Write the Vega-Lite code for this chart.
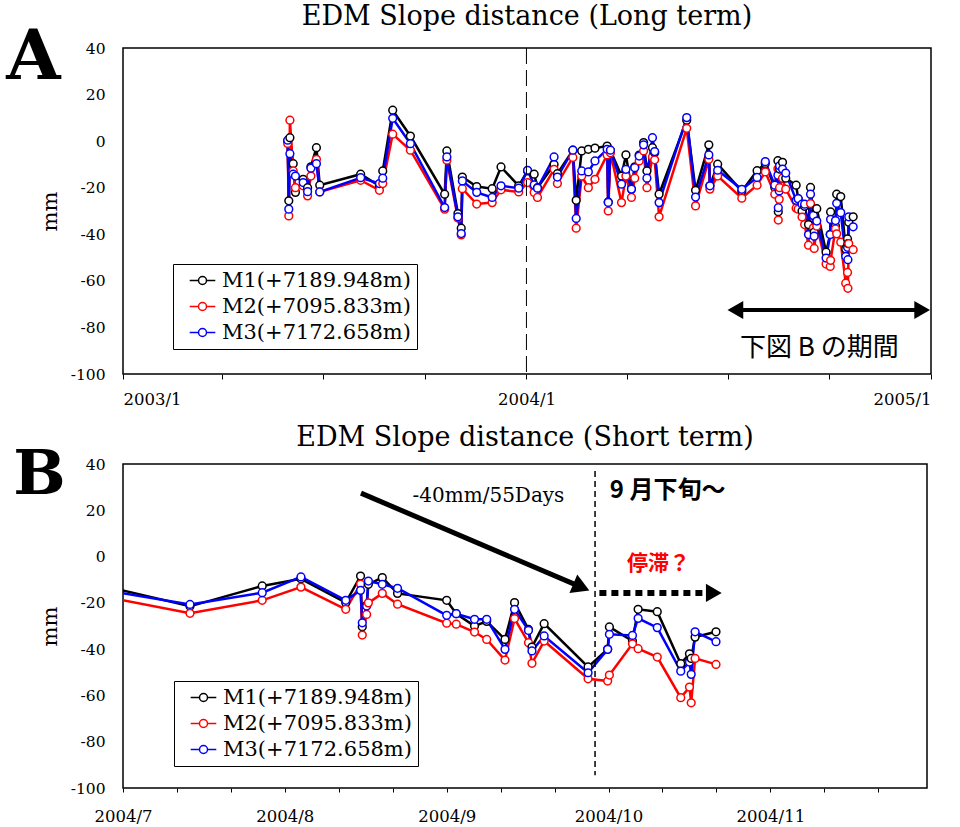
{
  "$schema": "https://vega.github.io/schema/vega-lite/v6.json",
  "padding": {"left": 5, "top": 2, "right": 0, "bottom": 0},
  "background": "white",
  "config": {
    "font": "DejaVu Serif",
    "view": {"stroke": "black", "strokeWidth": 1.5},
    "axis": {"labelFont": "DejaVu Serif", "labelColor": "black", "grid": false, "domain": false, "tickColor": "black", "titleFont": "DejaVu Serif", "titleFontWeight": "normal", "titleColor": "black"},
    "title": {"font": "DejaVu Serif", "fontSize": 27, "fontWeight": "normal", "color": "black", "offset": -8},
    "legend": {
      "title": null,
      "orient": "none",
      "strokeColor": "black",
      "fillColor": "white",
      "padding": 6,
      "rowPadding": 4,
      "labelFont": "DejaVu Serif",
      "labelFontSize": 21,
      "labelColor": "black",
      "labelLimit": 0,
      "symbolType": "M-1.6,0L-0.5,0M0.5,0L1.6,0M0.5,0A0.5,0.5,0,1,1,-0.5,0A0.5,0.5,0,1,1,0.5,0Z",
      "symbolSize": 256,
      "symbolStrokeWidth": 1.5,
      "symbolFillColor": "white",
      "symbolOffset": 13,
      "labelOffset": 9
    }
  },
  "datasets": {
    "one": [{}],
    "edm": [
      {"date": "2003/05/30", "M1": 0, "M2": -1, "M3": 0.4},
      {"date": "2003/05/31", "M1": -25.6, "M2": -32.1, "M3": -29.2},
      {"date": "2003/06/01", "M1": 1.5, "M2": 9, "M3": -5.4},
      {"date": "2003/06/04", "M1": -9.7, "M2": -12.8, "M3": -14.2},
      {"date": "2003/06/06", "M1": -22, "M2": -20, "M3": -15},
      {"date": "2003/06/13", "M1": -16.4, "M2": -19.2, "M3": -17.8},
      {"date": "2003/06/17", "M1": -20, "M2": -23.5, "M3": -21.7},
      {"date": "2003/06/20", "M1": -11, "M2": -15, "M3": -11.6},
      {"date": "2003/06/25", "M1": -2.8, "M2": -7.8, "M3": -9.7},
      {"date": "2003/06/28", "M1": -18.9, "M2": -21.8, "M3": -21.8},
      {"date": "2003/08/04", "M1": -14.2, "M2": -16.8, "M3": -15.7},
      {"date": "2003/08/21", "M1": -19.3, "M2": -21.1, "M3": -18.2},
      {"date": "2003/08/24", "M1": -12.8, "M2": -18.2, "M3": -15.9},
      {"date": "2003/09/02", "M1": 13.3, "M2": 3, "M3": 9.8},
      {"date": "2003/09/18", "M1": 2.2, "M2": -3.9, "M3": -1.1},
      {"date": "2003/10/19", "M1": -22.8, "M2": -29.2, "M3": -28.5},
      {"date": "2003/10/21", "M1": -4.2, "M2": -8.2, "M3": -6.8},
      {"date": "2003/10/31", "M1": -31.1, "M2": -33, "M3": -32.5},
      {"date": "2003/11/03", "M1": -37.4, "M2": -40.3, "M3": -39.7},
      {"date": "2003/11/04", "M1": -15.4, "M2": -20.4, "M3": -17.1},
      {"date": "2003/11/17", "M1": -19.5, "M2": -27, "M3": -22},
      {"date": "2003/12/01", "M1": -20.4, "M2": -26.4, "M3": -24.2},
      {"date": "2003/12/09", "M1": -11.1, "M2": -20.9, "M3": -19.2},
      {"date": "2003/12/25", "M1": -19.2, "M2": -21.8, "M3": -20.2},
      {"date": "2004/01/02", "M1": -12.8, "M2": -17.8, "M3": -12.5},
      {"date": "2004/01/08", "M1": -14.2, "M2": -22.1, "M3": -18.8},
      {"date": "2004/01/11", "M1": -20, "M2": -24.2, "M3": -20.2},
      {"date": "2004/01/26", "M1": -10, "M2": -12.1, "M3": -6.8},
      {"date": "2004/01/29", "M1": -14, "M2": -18.2, "M3": -15.4},
      {"date": "2004/02/12", "M1": -3.9, "M2": -7, "M3": -3.9},
      {"date": "2004/02/15", "M1": -25.4, "M2": -37.4, "M3": -33.2},
      {"date": "2004/02/20", "M1": -4.2, "M2": -15, "M3": -12.8},
      {"date": "2004/02/26", "M1": -3.5, "M2": -20, "M3": -13.2},
      {"date": "2004/03/03", "M1": -3, "M2": -16.4, "M3": -8.5},
      {"date": "2004/03/14", "M1": -2.1, "M2": -5.9, "M3": -3.5},
      {"date": "2004/03/15", "M1": -26.1, "M2": -30, "M3": -26.3},
      {"date": "2004/03/17", "M1": -4, "M2": -5, "M3": -3.9},
      {"date": "2004/03/27", "M1": -15, "M2": -26.4, "M3": -18.5},
      {"date": "2004/03/31", "M1": -5.9, "M2": -15, "M3": -12.1},
      {"date": "2004/04/05", "M1": -20.6, "M2": -24.2, "M3": -20.6},
      {"date": "2004/04/08", "M1": -11, "M2": -15.9, "M3": -11.4},
      {"date": "2004/04/12", "M1": -6, "M2": -8.5, "M3": -6.4},
      {"date": "2004/04/16", "M1": -0.6, "M2": -4.2, "M3": -1.6},
      {"date": "2004/04/19", "M1": -12.8, "M2": -20, "M3": -15.9},
      {"date": "2004/04/24", "M1": -2.8, "M2": -6.8, "M3": 1.5},
      {"date": "2004/04/26", "M1": -5, "M2": -8, "M3": -4.5},
      {"date": "2004/04/30", "M1": -22.8, "M2": -32.5, "M3": -26.4},
      {"date": "2004/05/25", "M1": 9, "M2": 5.5, "M3": 10.1},
      {"date": "2004/06/02", "M1": -21.1, "M2": -27.8, "M3": -24},
      {"date": "2004/06/14", "M1": -1.6, "M2": -7.8, "M3": -5.9},
      {"date": "2004/06/15", "M1": -19.2, "M2": -20.6, "M3": -19.2},
      {"date": "2004/06/22", "M1": -9.9, "M2": -15, "M3": -12.5},
      {"date": "2004/07/13 20:00", "M1": -21.5, "M2": -24.5, "M3": -20.7},
      {"date": "2004/07/27 16:00", "M1": -12.7, "M2": -18.9, "M3": -15.6},
      {"date": "2004/08/04 02:00", "M1": -9.6, "M2": -13.2, "M3": -8.8},
      {"date": "2004/08/12 16:00", "M1": -19.9, "M2": -22.8, "M3": -18.9},
      {"date": "2004/08/15 12:00", "M1": -8.4, "M2": -11.9, "M3": -14.6},
      {"date": "2004/08/15 20:00", "M1": -30.3, "M2": -33.9, "M3": -28.6},
      {"date": "2004/08/16 16:00", "M1": -21, "M2": -25, "M3": -21.4},
      {"date": "2004/08/17 00:00", "M1": -12, "M2": -20, "M3": -10.6},
      {"date": "2004/08/19 16:00", "M1": -9.1, "M2": -15.9, "M3": -12},
      {"date": "2004/08/22 14:00", "M1": -15.9, "M2": -20.6, "M3": -13.7},
      {"date": "2004/09/01 00:00", "M1": -18.9, "M2": -28.8, "M3": -25.4},
      {"date": "2004/09/02 20:00", "M1": -24.7, "M2": -29.2, "M3": -24.7},
      {"date": "2004/09/06 08:00", "M1": -30, "M2": -32.6, "M3": -27.1},
      {"date": "2004/09/08 16:00", "M1": -28, "M2": -35.8, "M3": -27.1},
      {"date": "2004/09/12 04:00", "M1": -35.8, "M2": -44.7, "M3": -40.1},
      {"date": "2004/09/14 00:00", "M1": -19.9, "M2": -26.8, "M3": -22.8},
      {"date": "2004/09/16 16:00", "M1": -31.5, "M2": -37.2, "M3": -31.9},
      {"date": "2004/09/17 08:00", "M1": -39.1, "M2": -46.1, "M3": -40.8},
      {"date": "2004/09/19 16:00", "M1": -29, "M2": -36.5, "M3": -34.3},
      {"date": "2004/09/28 02:00", "M1": -47.7, "M2": -52.8, "M3": -50.2},
      {"date": "2004/10/01 20:00", "M1": -40, "M2": -53.8, "M3": -40.1},
      {"date": "2004/10/02 04:00", "M1": -30.4, "M2": -51.2, "M3": -33.6},
      {"date": "2004/10/06 14:00", "M1": -36.5, "M2": -37.7, "M3": -34.1},
      {"date": "2004/10/07 16:00", "M1": -22.8, "M2": -39.8, "M3": -26.7},
      {"date": "2004/10/11 08:00", "M1": -23.8, "M2": -43.4, "M3": -30.7},
      {"date": "2004/10/15 20:00", "M1": -46.3, "M2": -61, "M3": -49.5},
      {"date": "2004/10/17 12:00", "M1": -42, "M2": -56.4, "M3": -45.6},
      {"date": "2004/10/17 20:00", "M1": -44, "M2": -63.2, "M3": -50.9},
      {"date": "2004/10/18 14:00", "M1": -34.8, "M2": -44, "M3": -32.5},
      {"date": "2004/10/22 14:00", "M1": -32.5, "M2": -46.6, "M3": -36.8}
    ]
  },
  "spacing": 90,
  "bounds": "flush",
  "resolve": {"scale": {"x": "independent"}, "legend": {"color": "independent"}},
  "vconcat": [
    {
      "width": 808,
      "height": 326,
      "title": {"text": "EDM Slope distance (Long term)"},
      "layer": [
        {
          "data": {"name": "edm"},
          "transform": [{"fold": ["M1", "M2", "M3"], "as": ["series", "value"]}],
          "mark": {"type": "line", "strokeWidth": 2.5, "point": {"filled": false, "fill": "white", "size": 60, "strokeWidth": 1.5}},
          "encoding": {
            "x": {
              "field": "date", "type": "temporal",
              "scale": {"domain": [{"year": 2003, "month": 1, "date": 1}, {"year": 2005, "month": 1, "date": 1}]},
              "axis": {
                "title": null,
                "values": [
                  {"year": 2003, "month": 1, "date": 1}, {"year": 2003, "month": 4, "date": 1}, {"year": 2003, "month": 7, "date": 1}, {"year": 2003, "month": 10, "date": 1},
                  {"year": 2004, "month": 1, "date": 1}, {"year": 2004, "month": 4, "date": 1}, {"year": 2004, "month": 7, "date": 1}, {"year": 2004, "month": 10, "date": 1},
                  {"year": 2005, "month": 1, "date": 1}
                ],
                "labelExpr": "month(datum.value) == 0 ? timeFormat(datum.value, '%Y/%-m') : ''",
                "labelFlush": true,
                "labelFontSize": 16.5,
                "tickSize": 5,
                "labelPadding": 12
              }
            },
            "y": {
              "field": "value", "type": "quantitative",
              "scale": {"domain": [-100, 40], "nice": false, "zero": false},
              "axis": {"values": [-100, -80, -60, -40, -20, 0, 20, 40], "labelExpr": "'' + datum.value", "title": "mm", "titleFontSize": 21, "tickSize": 0, "labelPadding": 18, "labelFontSize": 15.5, "titlePadding": 10}
            },
            "color": {
              "field": "series", "type": "nominal",
              "scale": {"domain": ["M1", "M2", "M3"], "range": ["black", "red", "blue"]},
              "legend": {
                "legendX": 50, "legendY": 216,
                "labelExpr": "datum.label == 'M1' ? 'M1(+7189.948m)' : datum.label == 'M2' ? 'M2(+7095.833m)' : 'M3(+7172.658m)'",
                "symbolType": "M-1.6,0L-0.5,0M0.5,0L1.6,0M0.5,0A0.5,0.5,0,1,1,-0.5,0A0.5,0.5,0,1,1,0.5,0Z"
              }
            }
          }
        },
        {
          "data": {"name": "one"},
          "mark": {"type": "rule", "strokeDash": [16, 6], "strokeWidth": 1, "color": "black"},
          "encoding": {"x": {"datum": {"year": 2004, "month": 1, "date": 1}, "type": "temporal"}}
        },
        {
          "data": {"name": "one"},
          "mark": {"type": "rule", "strokeWidth": 4, "color": "black"},
          "encoding": {
            "x": {"datum": {"year": 2004, "month": 7, "date": 8}, "type": "temporal"},
            "x2": {"datum": {"year": 2004, "month": 12, "date": 24}},
            "y": {"datum": -72.5}
          }
        },
        {
          "data": {"name": "one"},
          "mark": {"type": "point", "shape": "triangle-left", "filled": true, "color": "black", "size": 330, "opacity": 1},
          "encoding": {"x": {"datum": {"year": 2004, "month": 7, "date": 8}, "type": "temporal"}, "y": {"datum": -72.5}}
        },
        {
          "data": {"name": "one"},
          "mark": {"type": "point", "shape": "triangle-right", "filled": true, "color": "black", "size": 330, "opacity": 1},
          "encoding": {"x": {"datum": {"year": 2004, "month": 12, "date": 24}, "type": "temporal"}, "y": {"datum": -72.5}}
        },
        {
          "data": {"name": "one"},
          "mark": {"type": "text", "font": "Noto Sans CJK JP", "fontSize": 26, "color": "black", "align": "center", "baseline": "middle"},
          "encoding": {"x": {"datum": {"year": 2004, "month": 9, "date": 22}, "type": "temporal"}, "y": {"datum": -88.8}, "text": {"value": "下図 B の期間"}}
        },
        {
          "data": {"name": "one"},
          "mark": {"type": "text", "font": "DejaVu Serif", "fontSize": 70, "fontWeight": "bold", "color": "black", "align": "center", "baseline": "alphabetic", "clip": false},
          "encoding": {"x": {"datum": {"year": 2002, "month": 10, "date": 12}, "type": "temporal"}, "y": {"datum": 26.7}, "text": {"value": "A"}}
        }
      ]
    },
    {
      "width": 804,
      "height": 324,
      "title": {"text": "EDM Slope distance (Short term)"},
      "layer": [
        {
          "data": {"name": "edm"},
          "transform": [{"fold": ["M1", "M2", "M3"], "as": ["series", "value"]}],
          "mark": {"type": "line", "strokeWidth": 2.5, "clip": true, "point": {"filled": false, "fill": "white", "size": 60, "strokeWidth": 1.5, "clip": true}},
          "encoding": {
            "x": {
              "field": "date", "type": "temporal",
              "scale": {"domain": [{"year": 2004, "month": 7, "date": 1}, {"year": 2004, "month": 12, "date": 2}]},
              "axis": {
                "title": null,
                "values": [
                  {"year": 2004, "month": 7, "date": 1}, {"year": 2004, "month": 7, "date": 11, "hours": 8}, {"year": 2004, "month": 7, "date": 21, "hours": 16},
                  {"year": 2004, "month": 8, "date": 1}, {"year": 2004, "month": 8, "date": 11, "hours": 8}, {"year": 2004, "month": 8, "date": 21, "hours": 16},
                  {"year": 2004, "month": 9, "date": 1}, {"year": 2004, "month": 9, "date": 11, "hours": 8}, {"year": 2004, "month": 9, "date": 21, "hours": 16},
                  {"year": 2004, "month": 10, "date": 2}, {"year": 2004, "month": 10, "date": 12, "hours": 8}, {"year": 2004, "month": 10, "date": 22, "hours": 16},
                  {"year": 2004, "month": 11, "date": 2}, {"year": 2004, "month": 11, "date": 12, "hours": 8}, {"year": 2004, "month": 11, "date": 22, "hours": 16}
                ],
                "labelExpr": "hours(datum.value) == 0 ? timeFormat(datum.value, '%Y/%-m') : ''",
                "labelFlush": false,
                "labelFontSize": 16.5,
                "tickSize": 4,
                "labelPadding": 16
              }
            },
            "y": {
              "field": "value", "type": "quantitative",
              "scale": {"domain": [-100, 40], "nice": false, "zero": false},
              "axis": {"values": [-100, -80, -60, -40, -20, 0, 20, 40], "labelExpr": "'' + datum.value", "title": "mm", "titleFontSize": 21, "tickSize": 0, "labelPadding": 18, "labelFontSize": 15.5, "titlePadding": 10}
            },
            "color": {
              "field": "series", "type": "nominal",
              "scale": {"domain": ["M1", "M2", "M3"], "range": ["black", "red", "blue"]},
              "legend": {
                "legendX": 51, "legendY": 217,
                "labelExpr": "datum.label == 'M1' ? 'M1(+7189.948m)' : datum.label == 'M2' ? 'M2(+7095.833m)' : 'M3(+7172.658m)'",
                "symbolType": "M-1.6,0L-0.5,0M0.5,0L1.6,0M0.5,0A0.5,0.5,0,1,1,-0.5,0A0.5,0.5,0,1,1,0.5,0Z"
              }
            }
          }
        },
        {
          "data": {"name": "one"},
          "mark": {"type": "rule", "strokeDash": [6, 4], "strokeWidth": 1.5, "color": "black"},
          "encoding": {
            "x": {"datum": {"year": 2004, "month": 9, "date": 29, "hours": 10}, "type": "temporal"},
            "y": {"datum": 37},
            "y2": {"datum": -94.5}
          }
        },
        {
          "data": {"name": "one"},
          "mark": {"type": "rule", "strokeWidth": 5, "color": "black"},
          "encoding": {
            "x": {"datum": {"year": 2004, "month": 8, "date": 15, "hours": 14}, "type": "temporal"},
            "y": {"datum": 27.4},
            "x2": {"datum": {"year": 2004, "month": 9, "date": 26, "hours": 19}},
            "y2": {"datum": -13.2}
          }
        },
        {
          "data": {"name": "one"},
          "mark": {"type": "point", "shape": "triangle-right", "filled": true, "color": "black", "size": 400, "angle": 23, "opacity": 1},
          "encoding": {"x": {"datum": {"year": 2004, "month": 9, "date": 26, "hours": 19}, "type": "temporal"}, "y": {"datum": -13.2}}
        },
        {
          "data": {"name": "one"},
          "mark": {"type": "rule", "strokeWidth": 6, "strokeDash": [7, 5], "color": "black"},
          "encoding": {
            "x": {"datum": {"year": 2004, "month": 9, "date": 30, "hours": 6}, "type": "temporal"},
            "x2": {"datum": {"year": 2004, "month": 10, "date": 20, "hours": 16}},
            "y": {"datum": -15.7}
          }
        },
        {
          "data": {"name": "one"},
          "mark": {"type": "point", "shape": "triangle-right", "filled": true, "color": "black", "size": 330, "opacity": 1},
          "encoding": {"x": {"datum": {"year": 2004, "month": 10, "date": 22, "hours": 4}, "type": "temporal"}, "y": {"datum": -15.7}}
        },
        {
          "data": {"name": "one"},
          "mark": {"type": "text", "font": "DejaVu Serif", "fontSize": 20, "color": "black", "align": "center", "baseline": "middle"},
          "encoding": {"x": {"datum": {"year": 2004, "month": 9, "date": 9}, "type": "temporal"}, "y": {"datum": 26.2}, "text": {"value": "-40mm/55Days"}}
        },
        {
          "data": {"name": "one"},
          "mark": {"type": "text", "font": "Noto Sans CJK JP", "fontSize": 24, "fontWeight": "bold", "color": "black", "align": "left", "baseline": "middle"},
          "encoding": {"x": {"datum": {"year": 2004, "month": 10, "date": 2, "hours": 6}, "type": "temporal"}, "y": {"datum": 28.3}, "text": {"value": "9 月下旬～"}}
        },
        {
          "data": {"name": "one"},
          "mark": {"type": "text", "font": "Noto Sans CJK JP", "fontSize": 21, "fontWeight": "bold", "color": "red", "align": "center", "baseline": "middle"},
          "encoding": {"x": {"datum": {"year": 2004, "month": 10, "date": 11, "hours": 14}, "type": "temporal"}, "y": {"datum": -3.3}, "text": {"value": "停滞？"}}
        },
        {
          "data": {"name": "one"},
          "mark": {"type": "text", "font": "DejaVu Serif", "fontSize": 62, "fontWeight": "bold", "color": "black", "align": "center", "baseline": "alphabetic", "clip": false},
          "encoding": {"x": {"datum": {"year": 2004, "month": 6, "date": 15}, "type": "temporal"}, "y": {"datum": 27}, "text": {"value": "B"}}
        }
      ]
    }
  ]
}
